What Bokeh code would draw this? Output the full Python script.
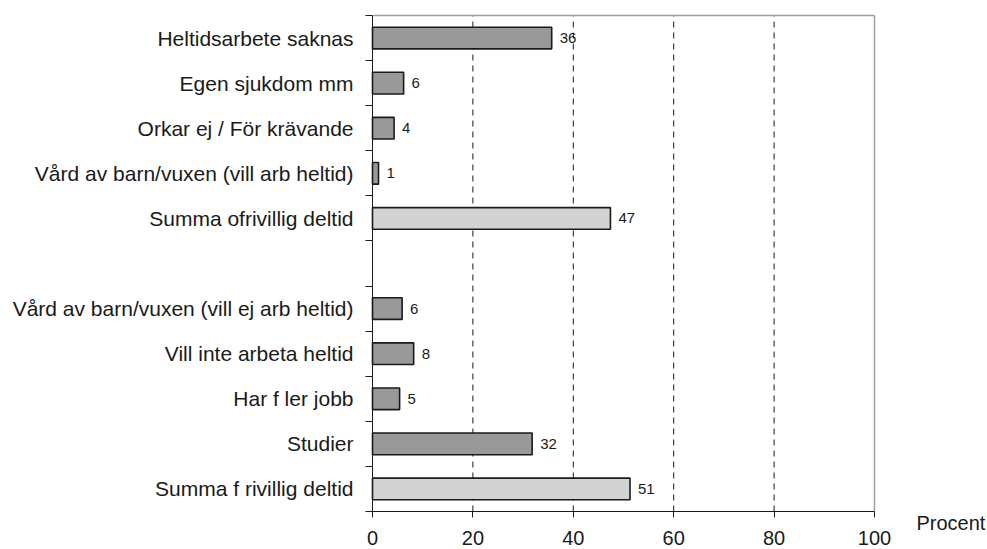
from bokeh.plotting import figure
from bokeh.models import FixedTicker, ColumnDataSource, Range1d
from bokeh.embed import file_html
from bokeh.resources import INLINE

# Data (top to bottom); "" marks the empty slot
categories = [
    "Heltidsarbete saknas",
    "Egen sjukdom mm",
    "Orkar ej / För krävande",
    "Vård av barn/vuxen (vill arb heltid)",
    "Summa ofrivillig deltid",
    "",
    "Vård av barn/vuxen (vill ej arb heltid)",
    "Vill inte arbeta heltid",
    "Har f ler jobb",
    "Studier",
    "Summa f rivillig deltid",
]
values = [35.7, 6.2, 4.3, 1.2, 47.4, None, 5.9, 8.2, 5.4, 31.8, 51.3]
value_labels = ["36", "6", "4", "1", "47", "", "6", "8", "5", "32", "51"]
x_ticks = [0, 20, 40, 60, 80, 100]
grid_ticks = [20, 40, 60, 80]
unit_label = "Procent"

FONT = "Liberation Sans"
n = len(categories)
X_MAX = x_ticks[-1]

ys, xs, labs, fills = [], [], [], []
overrides = {}
for i, (c, v, l) in enumerate(zip(categories, values, value_labels)):
    y = n - i - 0.5
    if c:
        overrides[y] = c
    if v is None:
        continue
    ys.append(y)
    xs.append(v)
    labs.append(l)
    fills.append("#d3d3d3" if c.startswith("Summa") else "#999999")

src = ColumnDataSource(dict(y=ys, x=xs, lab=labs, fill=fills))

# layout: plot box 372..874 px wide, 15..511 px tall; the frame covers the whole canvas
W, H = 987, 549
BOX_L, BOX_T = 372, 15
PX_X = 502 / X_MAX
PX_Y = 496 / n
x_start = -BOX_L / PX_X
x_end = (W - BOX_L) / PX_X
y_end = n + BOX_T / PX_Y
y_start = y_end - H / PX_Y

p = figure(width=W, height=H, x_range=Range1d(x_start, x_end), y_range=Range1d(y_start, y_end),
           output_backend="svg", toolbar_location=None,
           min_border_left=0, min_border_right=0, min_border_top=0, min_border_bottom=0)

p.outline_line_color = None
p.background_fill_color = "white"
p.border_fill_color = "white"

# dashed grid lines and grey top/right border of the plot box
p.segment(x0=grid_ticks, y0=[0] * len(grid_ticks), x1=grid_ticks, y1=[n] * len(grid_ticks),
          line_color="#1a1a1a", line_dash="6 5", line_width=1)
p.segment(x0=[X_MAX, 0], y0=[0, n], x1=[X_MAX, X_MAX], y1=[n, n],
          line_color="#a0a0a0", line_width=1.5)

p.hbar(y="y", right="x", left=0, height=0.48, fill_color="fill",
       line_color="#1a1a1a", line_width=1.6, source=src)
p.text(x="x", y="y", text="lab", x_offset=8, text_baseline="middle",
       text_align="left", text_font_size="15px", text_font={"value": FONT},
       text_color="#1a1a1a", source=src)

p.text(x=[X_MAX + 42 / PX_X], y=[-11 / PX_Y], text=[unit_label], text_baseline="middle",
       text_align="left", text_font_size="20px", text_font={"value": FONT},
       text_color="#1a1a1a")

# x axis
p.xaxis.fixed_location = 0
p.xaxis.bounds = (0, X_MAX)
p.xaxis.ticker = FixedTicker(ticks=x_ticks)
p.xaxis.major_tick_out = 6
p.xaxis.major_tick_in = 0
p.xaxis.minor_tick_out = 0
p.xaxis.minor_tick_in = 0
p.xaxis.axis_line_color = "#1a1a1a"
p.xaxis.major_tick_line_color = "#1a1a1a"
p.xaxis.major_label_text_font = FONT
p.xaxis.major_label_text_font_size = "20px"
p.xaxis.major_label_text_color = "#1a1a1a"
p.xaxis.major_label_standoff = 13

# y axis
p.yaxis.fixed_location = 0
p.yaxis.bounds = (0, n)
p.yaxis.ticker = FixedTicker(ticks=list(overrides.keys()), minor_ticks=list(range(n + 1)))
p.yaxis.major_label_overrides = overrides
p.yaxis.major_tick_out = 0
p.yaxis.major_tick_in = 0
p.yaxis.minor_tick_out = 7
p.yaxis.minor_tick_in = 0
p.yaxis.axis_line_color = "#1a1a1a"
p.yaxis.minor_tick_line_color = "#1a1a1a"
p.yaxis.major_label_text_font = FONT
p.yaxis.major_label_text_font_size = "21px"
p.yaxis.major_label_text_color = "#1a1a1a"
p.yaxis.major_label_standoff = 12

p.xgrid.grid_line_color = None
p.ygrid.grid_line_color = None

open("out.html", "w").write(file_html(p, INLINE))
